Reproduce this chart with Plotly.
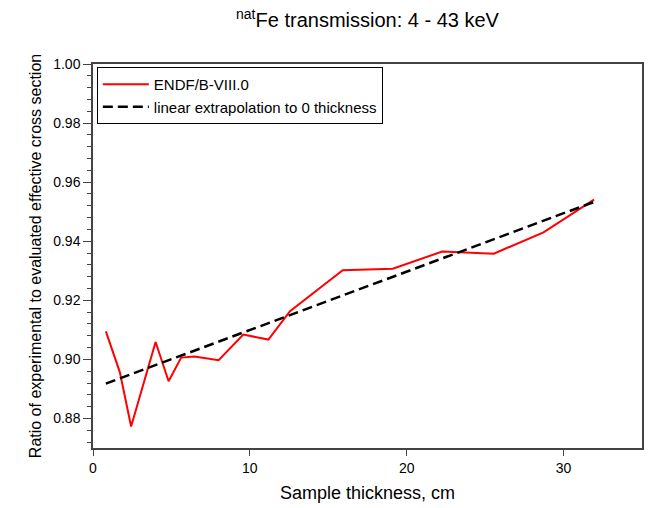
import plotly.graph_objects as go

# Data
thickness_cm = [0.82, 1.71, 2.43, 3.99, 4.82, 5.62, 6.47, 8.01, 9.58, 11.18,
                12.56, 15.92, 19.11, 22.26, 25.55, 28.72, 31.94]
ratio_endf = [0.9095, 0.8957, 0.8773, 0.9059, 0.8926, 0.9006, 0.9010, 0.8997,
              0.9084, 0.9067, 0.9163, 0.9302, 0.9307, 0.9365, 0.9358, 0.9430, 0.9541]
fit_x = [0.82, 31.94]
fit_y = [0.8918, 0.9533]

x_ticks = [0, 10, 20, 30]
y_ticks = [0.88, 0.90, 0.92, 0.94, 0.96, 0.98, 1.00]

FONT = "Liberation Sans, Arial, sans-serif"

fig = go.Figure()
fig.add_trace(go.Scatter(
    x=thickness_cm, y=ratio_endf, mode="lines", name="ENDF/B-VIII.0",
    line=dict(color="#ff0000", width=2),
))
fig.add_trace(go.Scatter(
    x=fit_x, y=fit_y, mode="lines", name="linear extrapolation to 0 thickness",
    line=dict(color="black", width=2.5, dash="10px,5px"),
))

fig.update_layout(
    width=650, height=508,
    margin=dict(l=93, r=6, t=64, b=60),
    paper_bgcolor="white", plot_bgcolor="white",
    font=dict(family=FONT, color="black", size=14),
    title=dict(
        text="<sup>nat</sup>Fe transmission: 4 - 43 keV",
        x=0.5, xref="paper", xanchor="center",
        y=1 - 20 / 508, yref="container", yanchor="middle",
        font=dict(family=FONT, size=20, color="black"),
    ),
    showlegend=True,
    legend=dict(
        x=0.007, y=0.992, xanchor="left", yanchor="top",
        bgcolor="white", bordercolor="black", borderwidth=1,
        font=dict(family=FONT, size=15, color="black"),
        tracegroupgap=0, itemwidth=46,
    ),
    xaxis=dict(
        range=[0, 35], tickvals=x_ticks, ticktext=[str(v) for v in x_ticks],
        ticks="outside", ticklen=6, tickcolor="#444", tickwidth=1,
        showline=True, linecolor="#444", linewidth=1.5, mirror=True,
        showgrid=False, zeroline=False,
        title=dict(text="Sample thickness, cm", font=dict(family=FONT, size=18), standoff=12),
        tickfont=dict(family=FONT, size=14),
    ),
    yaxis=dict(
        range=[0.87, 1.00], tickvals=y_ticks, ticktext=[f"{v:.2f}" for v in y_ticks],
        ticks="outside", ticklen=8, tickcolor="#444", tickwidth=1,
        minor=dict(dtick=0.004, tick0=0.88, ticks="outside", ticklen=4, tickcolor="#444", showgrid=False),
        showline=True, linecolor="#444", linewidth=1.5, mirror=True,
        showgrid=False, zeroline=False,
        title=dict(text="Ratio of experimental to evaluated effective cross section",
                   font=dict(family=FONT, size=16), standoff=8),
        tickfont=dict(family=FONT, size=14),
    ),
)

fig.write_html("out.html")
